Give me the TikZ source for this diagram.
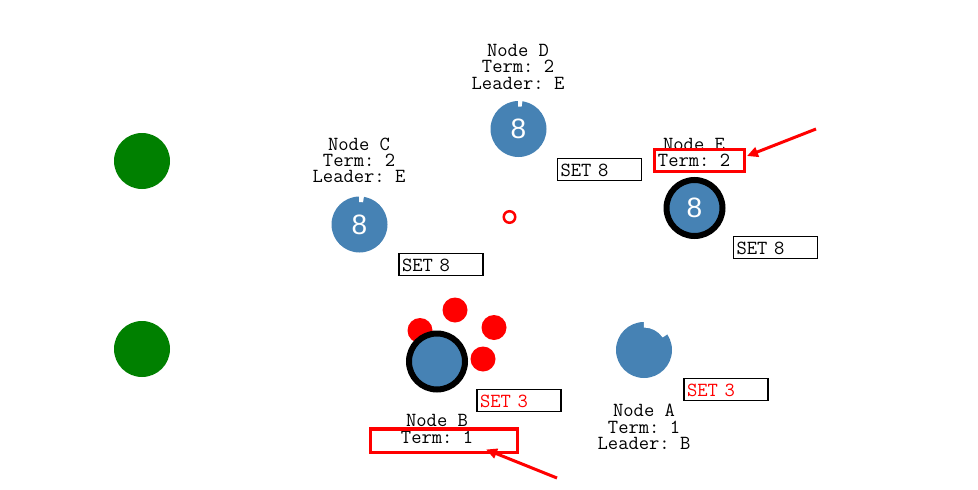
\documentclass[tikz,border=0pt]{standalone}
\usepackage{fontspec}
\newfontfamily\numfont{Liberation Sans}
\newfontfamily\labelfont{Latin Modern Mono}
\usetikzlibrary{arrows.meta}
\definecolor{nodeblue}{RGB}{70,130,180}
\definecolor{dotgreen}{RGB}{0,128,0}
\definecolor{hlred}{RGB}{255,0,0}
\frenchspacing
\begin{document}
\begin{tikzpicture}[x=1pt,y=1pt,
  lbl/.style={anchor=base,inner sep=0pt,font=\labelfont\fontsize{20}{20}\selectfont\frenchspacing},
  srv/.style={circle,fill=nodeblue,minimum size=56pt,inner sep=0pt,text=white,font=\numfont\fontsize{28}{28}\selectfont},
  leaderring/.style={draw=black,line width=6pt},
  green/.style={circle,fill=dotgreen,minimum size=56pt,inner sep=0pt},
  reddot/.style={circle,fill=hlred,minimum size=25pt,inner sep=0pt},
  setbox/.style={draw=black,line width=1.5pt,minimum width=84pt,minimum height=22pt,text width=78pt,inner xsep=3pt,align=left,text height=13pt,text depth=0pt,font=\labelfont\fontsize{20}{20}\selectfont\frenchspacing},
  hlbox/.style={draw=hlred,line width=3.5pt,inner sep=0pt},
  hlarrow/.style={draw=hlred,line width=3pt,-{Triangle[length=11pt,width=10pt]}},
  gapfill/.style={fill=white}
]
\useasboundingbox (0,0) rectangle (978,-490);

% green circles
\node[green] (g1) at (142,-161) {};
\node[green] (g2) at (142,-349) {};

% Node D
\node[lbl] (dl1) at (518,-56) {Node D};
\node[lbl] (dl2) at (518,-72.7) {Term: 2};
\node[lbl] (dl3) at (518,-89.3) {Leader: E};
\node[srv] (D) at (518.5,-129) {8};
\fill[gapfill] (D.center) ++(82:22.5) arc[start angle=82,end angle=91,radius=22.5] -- ++(91:7) arc[start angle=91,end angle=82,radius=29.5] -- cycle;
\node[setbox] (sD) at (599.5,-169.5) {SET 8};

% Node C
\node[lbl] (cl1) at (359,-150) {Node C};
\node[lbl] (cl2) at (359,-166.7) {Term: 2};
\node[lbl] (cl3) at (359,-182.7) {Leader: E};
\node[srv] (C) at (359.5,-224.5) {8};
\fill[gapfill] (C.center) ++(81:22.5) arc[start angle=81,end angle=91,radius=22.5] -- ++(91:7) arc[start angle=91,end angle=81,radius=29.5] -- cycle;
\node[setbox] (sC) at (441,-264.5) {SET 8};

% red small circle
\node[circle,draw=hlred,line width=2.5pt,minimum size=11.5pt,inner sep=0pt] (rc) at (509.5,-217) {};

% Node E
\node[lbl] (el1) at (694,-150) {Node E};
\node[hlbox,minimum width=90pt,minimum height=22pt] (hE) at (699.5,-160.5) {};
\node[lbl] (el2) at (694,-166.7) {Term: 2};
\node[srv,leaderring] (E) at (694.5,-208) {8};
\node[setbox] (sE) at (775.5,-247.5) {SET 8};
\coordinate (aE1) at (816,-129);
\coordinate (aE2) at (747,-156);
\draw[hlarrow] (aE1) -- (aE2);

% Node B with red dots
\node[reddot] (r1) at (420,-330.5) {};
\node[reddot] (r2) at (455,-310) {};
\node[reddot] (r3) at (494,-327.5) {};
\node[reddot] (r4) at (483,-359) {};
\node[srv,leaderring] (B) at (437,-361.5) {};
\node[setbox,text=hlred] (sB) at (519,-400.5) {SET 3};
\node[lbl] (bl1) at (437,-426.7) {Node B};
\node[lbl] (bl2) at (437,-443.3) {Term: 1};
\node[hlbox,minimum width=147pt,minimum height=23.5pt] (hB) at (444,-440.7) {};
\coordinate (aB1) at (557,-478);
\coordinate (aB2) at (486,-449.5);
\draw[hlarrow] (aB1) -- (aB2);

% Node A
\node[srv] (A) at (644,-350) {};
\fill[gapfill] (A.center) ++(34:22.5) arc[start angle=34,end angle=90.5,radius=22.5] -- ++(90.5:7) arc[start angle=90.5,end angle=34,radius=29.5] -- cycle;
\node[setbox,text=hlred] (sA) at (726,-389.5) {SET 3};
\node[lbl] (al1) at (644,-416.7) {Node A};
\node[lbl] (al2) at (644,-433.3) {Term: 1};
\node[lbl] (al3) at (644,-449.3) {Leader: B};
\end{tikzpicture}
\end{document}
